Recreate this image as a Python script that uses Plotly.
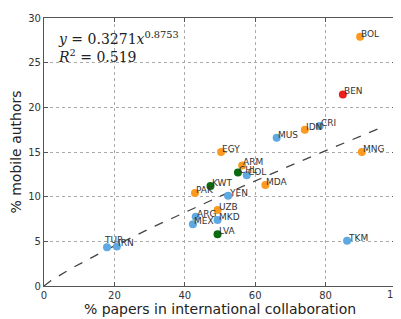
import numpy as np
import plotly.graph_objects as go

countries = ["BOL", "BEN", "IDN", "CRI", "MUS", "EGY", "MNG", "ARM", "CHL", "COL",
             "MDA", "KWT", "YEN", "UZB", "MKD", "LVA", "TKM", "PAK", "ARG", "MEX",
             "TUR", "IRN"]
pct_intl = [89.8, 84.9, 74.1, 78.3, 66.1, 50.3, 90.3, 56.3, 55.1, 57.6,
            62.9, 47.3, 52.3, 49.3, 49.3, 49.3, 86.1, 42.9, 43.1, 42.3,
            17.9, 20.7]
pct_mobile = [27.9, 21.45, 17.5, 17.9, 16.6, 15.0, 15.0, 13.5, 12.7, 12.4,
              11.3, 11.2, 10.1, 8.5, 7.4, 5.8, 5.06, 10.4, 7.75, 6.9,
              4.35, 4.43]
groups = ["o", "r", "o", "b", "b", "o", "o", "o", "g", "b",
          "o", "g", "b", "o", "b", "g", "b", "o", "b", "b",
          "b", "b"]
group_colors = {"o": "#fb9a1e", "b": "#5ea8e3", "g": "#0b6a0b", "r": "#ee1c1c"}

fit_a = 0.3271
fit_b = 0.8753
fit_r2 = 0.519
fit_xmax = 95

x_ticks = [0, 20, 40, 60, 80]
x_last_tick = 100
y_ticks = [0, 5, 10, 15, 20, 25, 30]

# the page body has an 8px default margin; compensate so the plot lands where the reference has it
PAGE_OFF = 8
W, H = 401 - PAGE_OFF, 319 - PAGE_OFF

fig = go.Figure()

xf = np.linspace(0, fit_xmax, 200)
yf = fit_a * xf ** fit_b
fig.add_trace(go.Scatter(x=xf, y=yf, mode="lines",
                         line=dict(color="#444444", width=1.3, dash="dash"),
                         hoverinfo="skip", showlegend=False))

fig.add_trace(go.Scatter(
    x=pct_intl, y=pct_mobile, mode="markers",
    marker=dict(size=8, color=[group_colors[g] for g in groups], line=dict(width=0)),
    text=countries, hoverinfo="text", showlegend=False))

for c, xv, yv in zip(countries, pct_intl, pct_mobile):
    xs, ys = -1, 3
    if c == "TUR":
        xs, ys = -5, 7
    fig.add_annotation(x=xv, y=yv, text=c, showarrow=False, xanchor="left", yanchor="middle",
                       xshift=xs, yshift=ys,
                       font=dict(size=9, color="#333333", family="DejaVu Sans"))

# last x tick label sits at the right edge and is cut by the window, as in the reference
fig.add_annotation(x=x_last_tick, xref="x", y=0, yref="paper", text=str(x_last_tick),
                   showarrow=False, xanchor="center", yanchor="top", yshift=-1,
                   font=dict(size=10, color="#333333", family="DejaVu Sans"))

fig.add_annotation(xref="paper", yref="paper", x=0.035, y=0.925, xanchor="left", yanchor="middle",
                   text="<i>y</i> = 0.3271<i>x</i><sup>0.8753</sup>", showarrow=False,
                   font=dict(family="DejaVu Serif", size=14, color="#222222"))
fig.add_annotation(xref="paper", yref="paper", x=0.035, y=0.86, xanchor="left", yanchor="middle",
                   text="<i>R</i><sup>2</sup> = " + str(fit_r2), showarrow=False,
                   font=dict(family="DejaVu Serif", size=14, color="#222222"))

axis_common = dict(showline=True, linecolor="#555555", linewidth=1.2, mirror="ticks",
                   ticks="inside", ticklen=4, tickcolor="#555555",
                   showgrid=True, gridcolor="#aaaaaa", griddash="dot", gridwidth=1,
                   zeroline=False, tickfont=dict(size=10, color="#333333", family="DejaVu Sans"))

fig.update_xaxes(range=[0, 100], tickvals=x_ticks,
                 title=dict(text="% papers in international collaboration", standoff=2,
                            font=dict(size=14, color="#222222", family="DejaVu Sans")),
                 **axis_common)
fig.update_yaxes(range=[0, 30], tickvals=y_ticks,
                 title=dict(text="% mobile authors", standoff=6,
                            font=dict(size=14, color="#222222", family="DejaVu Sans")),
                 **axis_common)

fig.update_layout(width=W, height=H, margin=dict(l=44 - PAGE_OFF, r=4, t=15 - PAGE_OFF, b=33),
                  plot_bgcolor="white", paper_bgcolor="white")

fig.write_html("out.html")
